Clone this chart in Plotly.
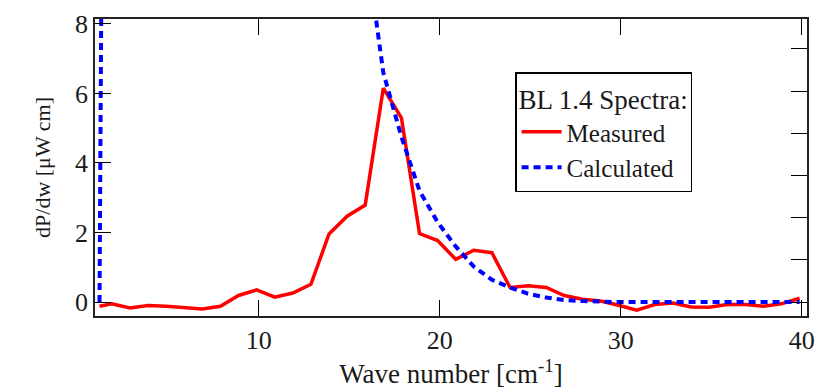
import plotly.graph_objects as go

# Wave number grid [cm^-1]
wavenumber = [1.2, 1.88, 2.88, 3.88, 4.88, 5.88, 6.88, 7.88, 8.88, 9.88,
              10.88, 11.88, 12.88, 13.88, 14.88, 15.88, 16.88, 17.88, 18.88, 19.88,
              20.88, 21.88, 22.88, 23.88, 24.88, 25.88, 26.88, 27.88, 28.88, 29.88,
              30.88, 31.88, 32.88, 33.88, 34.88, 35.88, 36.88, 37.88, 38.88, 39.88]

# Measured spectrum dP/dw [uW cm]
measured = [-0.12, -0.05, -0.17, -0.10, -0.12, -0.16, -0.20, -0.12, 0.19, 0.35,
            0.14, 0.26, 0.51, 1.96, 2.47, 2.79, 6.15, 5.30, 1.97, 1.77,
            1.23, 1.49, 1.42, 0.42, 0.47, 0.42, 0.19, 0.08, 0.03, -0.09,
            -0.23, -0.07, -0.03, -0.14, -0.15, -0.07, -0.07, -0.12, -0.05, 0.11]

# Calculated spectrum dP/dw [uW cm] (values above 8 lie off the plotted range)
calculated = [0.0, 60.0, 55.0, 50.0, 46.0, 42.0, 38.0, 34.0, 30.0, 27.0,
              24.0, 21.0, 18.0, 15.5, 13.0, 10.4, 6.6, 4.75, 3.2, 2.3,
              1.6, 1.02, 0.64, 0.42, 0.24, 0.13, 0.06, 0.03, 0.01, 0.0,
              0.0, 0.0, 0.0, 0.0, 0.0, 0.0, 0.0, 0.0, 0.0, 0.0]

x_ticks = [10, 20, 30, 40]
y_ticks = [0, 2, 4, 6, 8]
right_ticks = [0, 1, 2, 3, 4, 5, 6]

FONT = "Liberation Serif"
INK = "#1a1a1a"
AX = "#222222"
X_RANGE = [0.95, 40.29]
Y_RANGE = [-0.40, 8.14]

fig = go.Figure()
fig.add_trace(go.Scatter(x=wavenumber, y=measured, mode="lines", name="Measured",
                         line=dict(color="#ff0000", width=3.5)))
fig.add_trace(go.Scatter(x=wavenumber, y=calculated, mode="lines", name="Calculated",
                         line=dict(color="#0000ff", width=4, dash="7px,5px")))

# invisible carriers so each tick-mark axis owns a trace
for xa, ya in [("x", "y2"), ("x", "y3"), ("x2", "y"), ("x3", "y")]:
    fig.add_trace(go.Scatter(x=[wavenumber[0]], y=[measured[0]], xaxis=xa, yaxis=ya,
                             mode="lines", showlegend=False, hoverinfo="skip", opacity=0))

tick_style = dict(ticks="inside", ticklen=16, tickcolor="black", tickwidth=1,
                  showticklabels=False, showline=False, showgrid=False, zeroline=False)

fig.update_layout(
    width=825, height=391,
    margin=dict(l=95, r=10, t=10, b=75),
    paper_bgcolor="white", plot_bgcolor="rgba(0,0,0,0)",
    font=dict(family=FONT, size=25, color=INK),
    showlegend=True,
    legend=dict(
        title=dict(text="BL 1.4 Spectra:", font=dict(family=FONT, size=27, color=INK)),
        font=dict(family=FONT, size=25, color=INK),
        x=0.59, y=0.82, xanchor="left", yanchor="top",
        bgcolor="white", bordercolor="black", borderwidth=1.5,
        tracegroupgap=0, itemwidth=40,
    ),
    xaxis=dict(
        range=X_RANGE, tickvals=x_ticks, ticks="",
        showline=True, linecolor=AX, linewidth=1.5,
        mirror=True, showgrid=False, zeroline=False,
        tickfont=dict(family=FONT, size=26, color=INK),
        title=dict(text="Wave number [cm<sup>-1</sup>]", font=dict(family=FONT, size=27, color=INK),
                   standoff=4),
    ),
    yaxis=dict(
        range=Y_RANGE, tickvals=y_ticks, ticks="",
        showline=True, linecolor=AX, linewidth=1.5,
        mirror=True, showgrid=False, zeroline=False,
        tickfont=dict(family=FONT, size=26, color=INK),
        title=dict(text="dP/dw [μW cm]", font=dict(family=FONT, size=22, color=INK), standoff=18),
    ),
    # right-hand tick marks (separate scale, no labels)
    yaxis2=dict(overlaying="y", side="right", anchor="x", range=[-0.33, 6.71],
                tickvals=right_ticks, **tick_style),
    # left-hand tick marks matching the labelled axis
    yaxis3=dict(overlaying="y", side="left", anchor="x", range=Y_RANGE,
                tickvals=y_ticks, **tick_style),
    # bottom tick marks
    xaxis2=dict(overlaying="x", side="bottom", anchor="y", range=X_RANGE,
                tickvals=x_ticks, **tick_style),
    # top tick marks
    xaxis3=dict(overlaying="x", side="top", anchor="y", range=X_RANGE,
                tickvals=x_ticks, **tick_style),
)

fig.write_html("out.html")
